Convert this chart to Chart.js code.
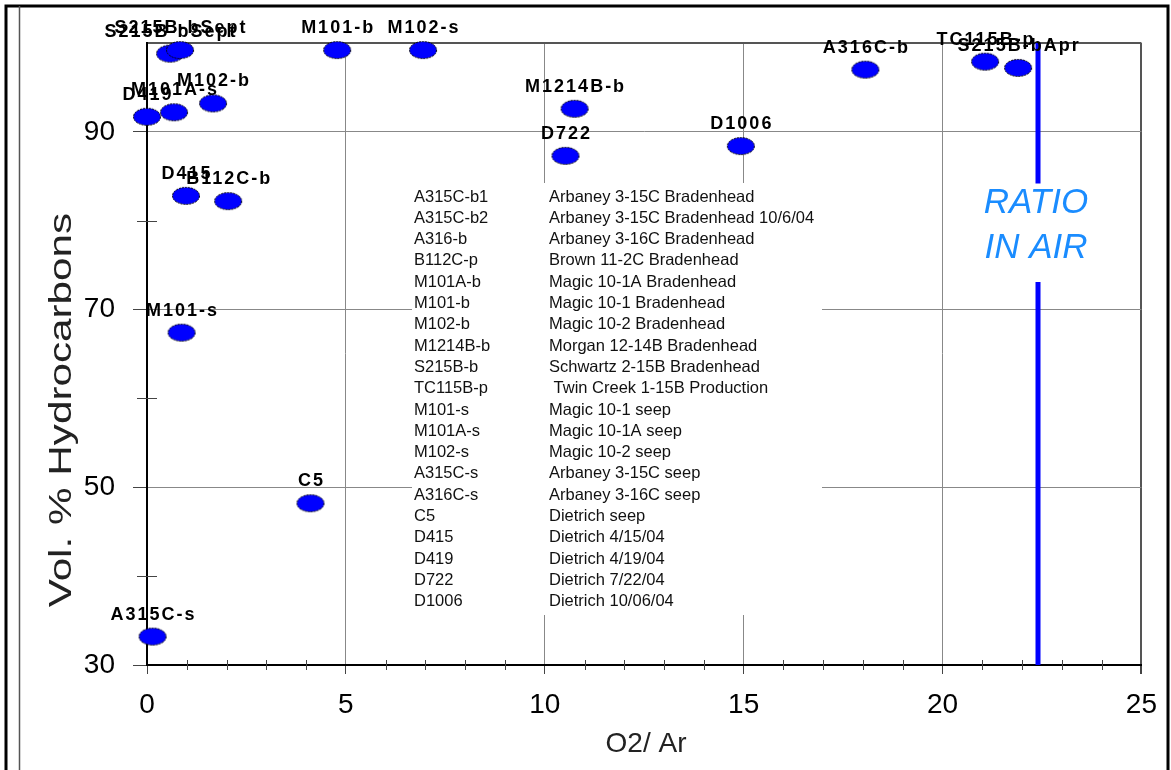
<!DOCTYPE html>
<html>
<head>
<meta charset="utf-8">
<script src="https://cdn.jsdelivr.net/npm/chart.js@4.4.1/dist/chart.umd.min.js"></script>
<style>
  body { margin: 0; background: #fff; }
  #wrap { position: absolute; left: 0; top: 0; width: 1171px; height: 770px; }
</style>
</head>
<body>
<div id="wrap"><canvas id="o2Chart" width="1171" height="770"></canvas></div>
<script>
// sample names, O2/Ar ratio and vol % hydrocarbons
var sampleNames = ['S215B-bSept', 'S215B-bSept', 'M101-b', 'M102-s', 'A316C-b', 'TC115B-p', 'S215B-bApr',
  'M1214B-b', 'D722', 'D1006', 'D419', 'M101A-s', 'M102-b', 'D415', 'B112C-b', 'M101-s', 'C5', 'A315C-s'];
var o2ArValues = [0.58, 0.83, 4.78, 6.94, 18.06, 21.07, 21.9, 10.75, 10.52, 14.93, 0.0, 0.68, 1.66, 0.98, 2.04, 0.87, 4.11, 0.14];
var hcValues = [98.8, 99.2, 99.2, 99.2, 97.0, 97.9, 97.2, 92.6, 87.3, 88.4, 91.7, 92.2, 93.2, 82.8, 82.2, 67.4, 48.2, 33.2];

// ratio in air marker
var airRatio = 22.4;
var airGap = [73.1, 84.2];

// key table
var keyCodes = ['A315C-b1', 'A315C-b2', 'A316-b', 'B112C-p', 'M101A-b', 'M101-b', 'M102-b', 'M1214B-b', 'S215B-b', 'TC115B-p',
  'M101-s', 'M101A-s', 'M102-s', 'A315C-s', 'A316C-s', 'C5', 'D415', 'D419', 'D722', 'D1006'];
var keyNames = ['Arbaney 3-15C Bradenhead', 'Arbaney 3-15C Bradenhead 10/6/04', 'Arbaney 3-16C Bradenhead', 'Brown 11-2C Bradenhead',
  'Magic 10-1A Bradenhead', 'Magic 10-1 Bradenhead', 'Magic 10-2 Bradenhead', 'Morgan 12-14B Bradenhead', 'Schwartz 2-15B Bradenhead',
  ' Twin Creek 1-15B Production', 'Magic 10-1 seep', 'Magic 10-1A seep', 'Magic 10-2 seep', 'Arbaney 3-15C seep', 'Arbaney 3-16C seep',
  'Dietrich seep', 'Dietrich 4/15/04', 'Dietrich 4/19/04', 'Dietrich 7/22/04', 'Dietrich 10/06/04'];

var xMin = 0, xMax = 25, yMin = 30, yMax = 100;
var xTitle = 'O2/ Ar', yTitle = 'Vol. % Hydrocarbons';
var FONT = 'Arial, "Liberation Sans", sans-serif';

// blue ellipse marker with dashed outline
var dot = document.createElement('canvas');
dot.width = 30; dot.height = 20;
(function () {
  var c = dot.getContext('2d');
  c.beginPath();
  c.ellipse(15, 10, 13.5, 8.5, 0, 0, Math.PI * 2);
  c.fillStyle = '#0000ff';
  c.fill();
  c.setLineDash([2, 1]);
  c.lineWidth = 1;
  c.strokeStyle = '#000';
  c.stroke();
})();

var points = o2ArValues.map(function (v, i) { return { x: v, y: hcValues[i] }; });
var airLine = [{ x: airRatio, y: yMin }, { x: airRatio, y: airGap[0] }, { x: airRatio, y: null }, { x: airRatio, y: airGap[1] }, { x: airRatio, y: yMax }];

var pageFrame = {
  id: 'pageFrame',
  beforeDraw: function (chart) {
    var ctx = chart.ctx;
    ctx.save();
    ctx.fillStyle = '#fff';
    ctx.fillRect(0, 0, chart.width, chart.height);
    ctx.strokeStyle = '#000';
    ctx.lineWidth = 3;
    ctx.beginPath();
    ctx.moveTo(6, 770); ctx.lineTo(6, 6); ctx.lineTo(1168, 6); ctx.lineTo(1168, 770);
    ctx.stroke();
    ctx.strokeStyle = '#555';
    ctx.lineWidth = 1.5;
    ctx.beginPath();
    ctx.moveTo(19.5, 6); ctx.lineTo(19.5, 770);
    ctx.stroke();
    ctx.restore();
  }
};

var minorTicks = {
  id: 'minorTicks',
  afterDraw: function (chart) {
    var ctx = chart.ctx, xs = chart.scales.x, ys = chart.scales.y;
    var a = chart.chartArea;
    ctx.save();
    ctx.strokeStyle = '#444';
    ctx.lineWidth = 1;
    ctx.beginPath();
    for (var v = xMin + 1; v < xMax; v++) {
      if (v % 5 === 0) continue;
      var px = Math.round(xs.getPixelForValue(v)) + 0.5;
      ctx.moveTo(px, a.bottom - 5); ctx.lineTo(px, a.bottom + 5);
    }
    for (var w = yMin + 10; w < yMax; w += 20) {
      var py = Math.round(ys.getPixelForValue(w)) + 0.5;
      ctx.moveTo(a.left - 10, py); ctx.lineTo(a.left + 10, py);
    }
    ctx.stroke();
    ctx.restore();
  }
};

var keyBox = {
  id: 'keyBox',
  beforeDatasetsDraw: function (chart) {
    var ctx = chart.ctx;
    ctx.save();
    ctx.fillStyle = '#fff';
    ctx.fillRect(412, 183, 410, 432);
    ctx.fillStyle = '#111';
    ctx.font = '16.5px ' + FONT;
    ctx.textBaseline = 'middle';
    for (var i = 0; i < keyCodes.length; i++) {
      var y = 197 + i * 21.3;
      ctx.fillText(keyCodes[i], 414, y);
      ctx.fillText(keyNames[i], 549, y);
    }
    ctx.restore();

    // axis titles, the y one is drawn long and narrow like the original
    ctx.save();
    ctx.fillStyle = '#222';
    ctx.textAlign = 'center';
    ctx.textBaseline = 'middle';
    ctx.font = '28px ' + FONT;
    ctx.fillText(xTitle, 646, 744);
    ctx.font = '32px ' + FONT;
    ctx.translate(62, 410);
    ctx.rotate(-Math.PI / 2);
    ctx.scale(1.32, 1);
    ctx.fillText(yTitle, 0, 0);
    ctx.restore();
  }
};

var pointLabels = {
  id: 'pointLabels',
  afterDatasetsDraw: function (chart) {
    var ctx = chart.ctx;
    var meta = chart.getDatasetMeta(0);
    ctx.save();
    ctx.font = 'bold 18px ' + FONT;
    ctx.letterSpacing = '2px';
    ctx.fillStyle = '#000';
    ctx.textAlign = 'center';
    ctx.textBaseline = 'middle';
    meta.data.forEach(function (el, i) {
      ctx.fillText(sampleNames[i], el.x + 1, el.y - 22);
    });
    ctx.restore();

    // ratio in air note
    var xs = chart.scales.x;
    ctx.save();
    ctx.font = 'italic 35px ' + FONT;
    ctx.fillStyle = '#1a8cff';
    ctx.textAlign = 'center';
    ctx.textBaseline = 'middle';
    var cx = xs.getPixelForValue(airRatio) - 2;
    ctx.fillText('RATIO', cx, 203);
    ctx.fillText('IN AIR', cx, 248);
    ctx.restore();
  }
};

var ctx = document.getElementById('o2Chart').getContext('2d');
var chart = new Chart(ctx, {
  type: 'scatter',
  data: {
    datasets: [{
      label: 'samples',
      data: points,
      pointStyle: dot,
      clip: false
    }, {
      label: 'ratio in air',
      type: 'line',
      data: airLine,
      borderColor: '#0000ff',
      borderWidth: 5,
      pointRadius: 0,
      spanGaps: false,
      clip: false
    }]
  },
  options: {
    responsive: false,
    animation: false,
    events: [],
    layout: { padding: { top: 43, right: 26, left: 0, bottom: 0 } },
    plugins: { legend: { display: false }, tooltip: { enabled: false } },
    scales: {
      x: {
        type: 'linear',
        min: xMin, max: xMax,
        afterFit: function (s) { s.height = 105; },
        border: { display: true, color: '#000', width: 2 },
        grid: {
          color: function (c) {
            var v = c.tick.value;
            if (v === xMax) return '#555';
            return (v % 5 === 0 && v > xMin) ? '#888' : 'rgba(0,0,0,0)';
          },
          lineWidth: function (c) { return c.tick.value === xMax ? 2 : 1; },
          tickColor: function (c) { return c.tick.value % 5 === 0 ? '#444' : 'rgba(0,0,0,0)'; },
          tickLength: 9
        },
        ticks: {
          stepSize: 1,
          autoSkip: false,
          maxRotation: 0,
          padding: 14,
          color: '#000',
          font: { family: FONT, size: 28 },
          callback: function (v) { return v % 5 === 0 ? v : ''; }
        }
      },
      y: {
        type: 'linear',
        min: yMin, max: yMax,
        afterFit: function (s) { s.width = 147; },
        border: { display: true, color: '#000', width: 2 },
        grid: {
          color: function (c) {
            var v = c.tick.value;
            if (v === yMax) return '#555';
            return ((v - yMin) % 20 === 0 && v > yMin) ? '#888' : 'rgba(0,0,0,0)';
          },
          lineWidth: function (c) { return c.tick.value === yMax ? 2 : 1; },
          tickColor: function (c) {
            var v = c.tick.value;
            return ((v - yMin) % 20 === 0 && v < yMax) ? '#444' : 'rgba(0,0,0,0)';
          },
          tickLength: 14
        },
        ticks: {
          stepSize: 10,
          padding: 18,
          color: '#000',
          font: { family: FONT, size: 28 },
          callback: function (v) { return (v - yMin) % 20 === 0 && v < yMax ? v : ''; }
        }
      }
    }
  },
  plugins: [pageFrame, keyBox, pointLabels, minorTicks]
});
</script>
</body>
</html>
